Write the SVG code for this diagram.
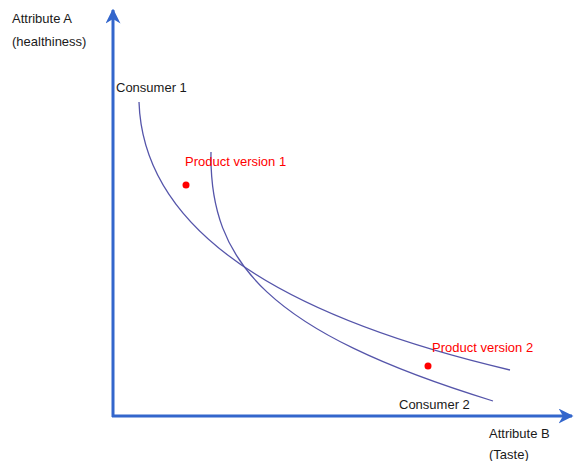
<svg xmlns="http://www.w3.org/2000/svg" width="574" height="461" viewBox="0 0 574 461">
<style>
text{font-family:"Liberation Sans",Arial,sans-serif;font-size:13px;fill:#1a1a1a}
.red{fill:#ff0000}
.axis{stroke:#3366cc;stroke-width:3;fill:none}
.curve{stroke:#5555aa;stroke-width:1.3;fill:none}
</style>
<defs>
<marker id="ah" viewBox="0 0 10 10" refX="9" refY="5" markerWidth="5" markerHeight="5" orient="auto" markerUnits="strokeWidth">
<path d="M0,0 L10,5 L0,10 L3,5 z" fill="#3366cc"/>
</marker>
</defs>
<g id="connectors">
<path class="axis" d="M113,417 L113,10" marker-end="url(#ah)"/>
<path class="axis" d="M112,416 L572,416" marker-end="url(#ah)"/>
<path class="curve" d="M139,102 C143,222 262,312 510,370"/>
<path class="curve" d="M211,152 C209,262 268,332 493,401"/>
</g>
<g id="axisA"><text x="12" y="23">Attribute A</text><text x="12" y="46">(healthiness)</text></g>
<g id="axisB"><text x="489" y="438">Attribute B</text><text x="489" y="459">(Taste)</text></g>
<g id="consumer1"><text x="116" y="92">Consumer 1</text></g>
<g id="consumer2"><text x="399" y="409">Consumer 2</text></g>
<g id="product1"><circle cx="186" cy="185" r="3.5" fill="#ff0000"/><text class="red" x="185" y="166">Product version 1</text></g>
<g id="product2"><circle cx="428" cy="366" r="3.5" fill="#ff0000"/><text class="red" x="432" y="352">Product version 2</text></g>
</svg>
